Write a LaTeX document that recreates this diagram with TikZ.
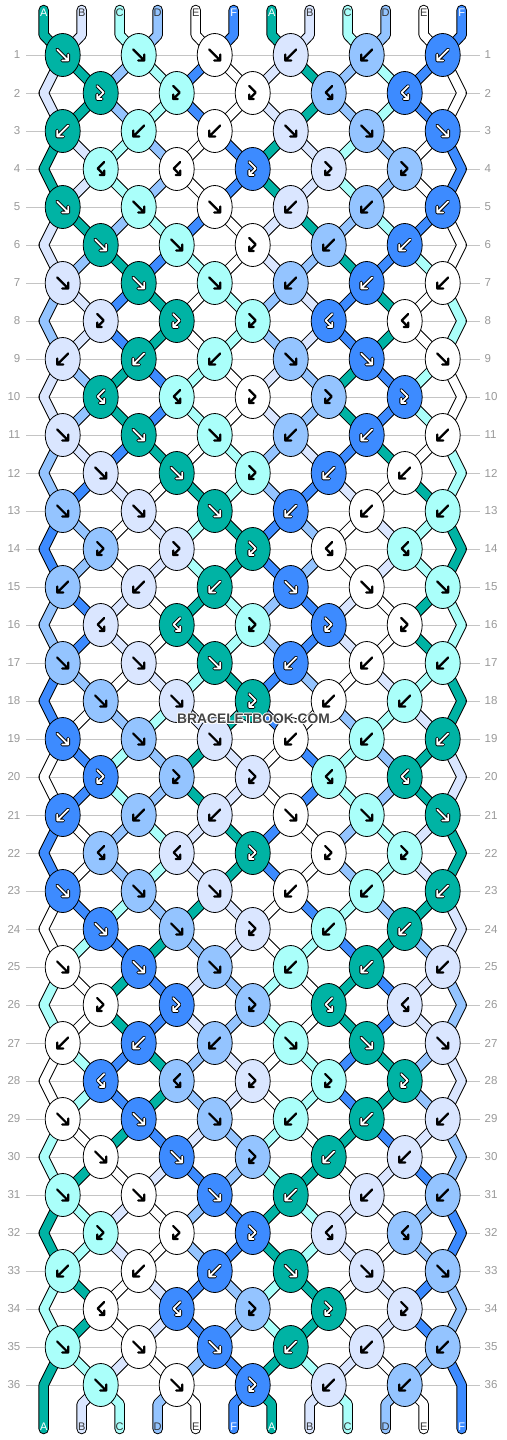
\documentclass[tikz,border=0pt]{standalone}
\usepackage{fontspec}
\setmainfont{Liberation Sans}
\usetikzlibrary{shapes.geometric}
\definecolor{cT}{HTML}{00B3A4}
\definecolor{cL}{HTML}{DAE6FF}
\definecolor{cC}{HTML}{AAFFFA}
\definecolor{cD}{HTML}{94C4FF}
\definecolor{cW}{HTML}{FFFFFF}
\definecolor{cU}{HTML}{3D8BFF}
\definecolor{gridgray}{HTML}{C4C4C4}
\definecolor{labgray}{HTML}{999999}
\definecolor{textdark}{HTML}{333333}
\definecolor{wmark}{HTML}{444444}
\pgfdeclarelayer{grid}
\pgfdeclarelayer{strands}
\pgfsetlayers{grid,strands,main}
\tikzset{
  knot/.style={ellipse, draw=black, line width=0.8pt, minimum width=35pt, minimum height=43pt, inner sep=0pt},
  strandout/.style={line width=10.5pt, draw=black, line join=round, line cap=round},
  strandin/.style={line width=8.5pt, line join=round, line cap=round},
  rowline/.style={draw=gridgray, line width=1pt},
  rowlabel/.style={text=labgray, font=\fontsize{11.5}{13}\selectfont, inner sep=0pt},
  letter/.style={font=\fontsize{11}{12}\selectfont, inner sep=0pt},
  glyph/.style={line cap=round, line join=round},
  wmtext/.style={font=\fontsize{13.8}{14}\bfseries\selectfont, inner sep=0pt}
}
\def\tyF{F}\def\tyB{B}\def\tyFB{FB}\def\tyBF{BF}
\newcommand\glyphF[1]{\draw[glyph,#1] (-5.5,-5.5)--(5.5,5.5) (5.5,-0.5)--(5.5,5.5)--(-0.5,5.5);}
\newcommand\glyphB[1]{\draw[glyph,#1] (5.5,-5.5)--(-5.5,5.5) (-5.5,-0.5)--(-5.5,5.5)--(0.5,5.5);}
\newcommand\glyphFB[1]{\draw[glyph,#1] (-3.5,-7)--(3,-0.5)--(-3.5,6) (-3.5,1.5)--(-3.5,6)--(1,6);}
\newcommand\glyphBF[1]{\draw[glyph,#1] (3.5,-7)--(-3,-0.5)--(3.5,6) (3.5,1.5)--(3.5,6)--(-1,6);}
% knot patterns (6-row repeat)
\expandafter\def\csname pat1\endcsname{F,F,F,B,B,B}
\expandafter\def\csname pat2\endcsname{FB,FB,FB,BF,BF}
\expandafter\def\csname pat3\endcsname{B,B,B,F,F,F}
\expandafter\def\csname pat4\endcsname{BF,BF,FB,FB,FB}
\expandafter\def\csname pat5\endcsname{F,F,F,B,B,B}
\expandafter\def\csname pat6\endcsname{F,F,FB,B,B}
\begin{document}
\begin{tikzpicture}[x=1pt,y=-1pt]
\useasboundingbox (0,0) rectangle (506,1440);
\begin{pgfonlayer}{grid}
\fill[white] (0,0) rectangle (506,1440);
\foreach \rw in {1,...,36}{
  \pgfmathsetmacro\yy{55+38*(\rw-1)}
  \coordinate (gl\rw) at (26,\yy);
  \coordinate (gr\rw) at (480,\yy);
  \draw[rowline] (gl\rw) -- (gr\rw);
  \node[rowlabel, anchor=east] (ll\rw) at (20.5,\yy) {\rw};
  \node[rowlabel, anchor=west] (lr\rw) at (484.5,\yy) {\rw};
}
\end{pgfonlayer}
% initial strings
\foreach \lt [count=\ii from 0] in {T,L,C,D,W,U,T,L,C,D,W,U}{\expandafter\xdef\csname colS\ii\endcsname{\lt}}
\foreach \lt [count=\ii from 0] in {A,B,C,D,E,F,A,B,C,D,E,F}{\expandafter\xdef\csname letS\ii\endcsname{\lt}}
\foreach \ii in {0,...,11}{%
  \expandafter\xdef\csname P\ii\endcsname{\ii}%
  \pgfmathsetmacro\xx{43.7+38*\ii}%
  \expandafter\xdef\csname S\ii\endcsname{(\xx,10)--(\xx,35)}%
  \edef\clr{\csname colS\ii\endcsname}%
  \def\tc{textdark}\if T\clr\def\tc{white}\fi\if U\clr\def\tc{white}\fi
  \node[letter, text=\tc] (top\ii) at (\xx,13) {\csname letS\ii\endcsname};
}
% rows
\foreach \rw in {1,...,36}{%
  \pgfmathsetmacro\yy{55+38*(\rw-1)}%
  \pgfmathtruncatemacro\pidx{mod(\rw-1,6)+1}%
  \edef\types{\csname pat\pidx\endcsname}%
  \foreach \ii in {0,...,11}{%
    \ifodd\rw\relax
      \pgfmathsetmacro\xx{62.7+76*floor(\ii/2)}%
    \else
      \ifnum\ii=0 \def\xx{43.7}%
      \else\ifnum\ii=11 \def\xx{461.7}%
      \else \pgfmathsetmacro\xx{100.7+76*floor((\ii-1)/2)}%
      \fi\fi
    \fi
    \edef\sid{\csname P\ii\endcsname}%
    \expandafter\xdef\csname S\sid\endcsname{\csname S\sid\endcsname--(\xx,\yy)}%
  }%
  \foreach \ty [count=\kk from 0] in \types {%
    \ifodd\rw\relax
      \pgfmathtruncatemacro\lpos{2*\kk}\pgfmathsetmacro\kx{62.7+76*\kk}%
    \else
      \pgfmathtruncatemacro\lpos{2*\kk+1}\pgfmathsetmacro\kx{100.7+76*\kk}%
    \fi
    \pgfmathtruncatemacro\rpos{\lpos+1}%
    \edef\sL{\csname P\lpos\endcsname}%
    \edef\sR{\csname P\rpos\endcsname}%
    \edef\kty{\ty}%
    \ifx\kty\tyF \edef\kc{\csname colS\sL\endcsname}\def\swp{1}\fi
    \ifx\kty\tyB \edef\kc{\csname colS\sR\endcsname}\def\swp{1}\fi
    \ifx\kty\tyFB \edef\kc{\csname colS\sL\endcsname}\def\swp{0}\fi
    \ifx\kty\tyBF \edef\kc{\csname colS\sR\endcsname}\def\swp{0}\fi
    \ifnum\swp=1
      \expandafter\xdef\csname P\lpos\endcsname{\sR}%
      \expandafter\xdef\csname P\rpos\endcsname{\sL}%
    \fi
    \node[knot, fill=c\kc] (k-\rw-\kk) at (\kx,\yy) {};
    \begin{scope}[shift={(\kx,\yy)}]
      \def\dk{0}\if T\kc\def\dk{1}\fi\if U\kc\def\dk{1}\fi
      \ifnum\dk=1
        \csname glyph\kty\endcsname{line width=3.6pt,black}%
        \csname glyph\kty\endcsname{line width=1.8pt,white}%
      \else
        \csname glyph\kty\endcsname{line width=2.2pt,black}%
      \fi
    \end{scope}
  }%
}
% bottom ends
\foreach \ii in {0,...,11}{%
  \pgfmathsetmacro\xx{43.7+38*\ii}%
  \edef\sid{\csname P\ii\endcsname}%
  \expandafter\xdef\csname S\sid\endcsname{\csname S\sid\endcsname--(\xx,1404)--(\xx,1429)}%
  \edef\clr{\csname colS\sid\endcsname}%
  \def\tc{textdark}\if T\clr\def\tc{white}\fi\if U\clr\def\tc{white}\fi
  \node[letter, text=\tc] (bot\ii) at (\xx,1427) {\csname letS\sid\endcsname};
}
% strands
\begin{pgfonlayer}{strands}
\foreach \sn in {0,...,11}{%
  \edef\cc{\csname colS\sn\endcsname}%
  \edef\cmd{\noexpand\draw[strandout] \csname S\sn\endcsname;
            \noexpand\draw[strandin, draw=c\cc] \csname S\sn\endcsname;}%
  \cmd
}
\end{pgfonlayer}
% watermark with light halo
\foreach \dx/\dy in {-1/0,1/0,0/-1,0/1,-0.7/-0.7,0.7/0.7,-0.7/0.7,0.7/-0.7}{
  \node[wmtext, text=white] at (253.5+\dx,719+\dy) {BRACELETBOOK.COM};
}
\node[wmtext, text=wmark] (wm) at (253.5,719) {BRACELETBOOK.COM};
\end{tikzpicture}
\end{document}
